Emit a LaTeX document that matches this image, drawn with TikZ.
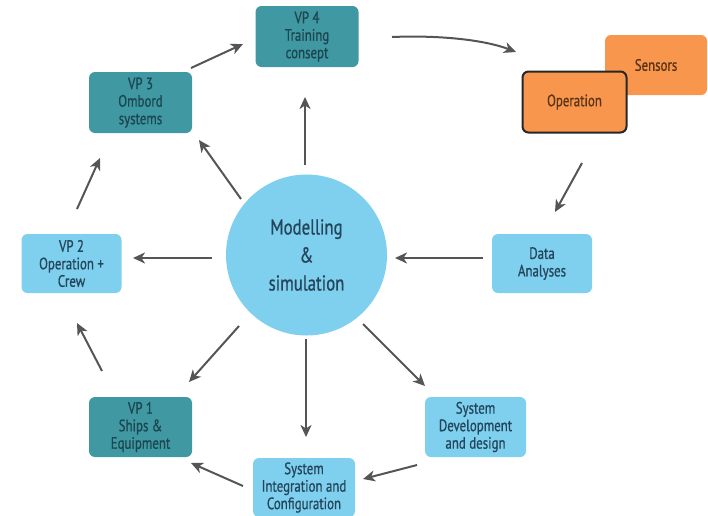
\documentclass[tikz,border=0pt]{standalone}
\usepackage{fontspec}
\setmainfont{PT Sans}[FakeStretch=0.78, FakeBold=0.8]
\usetikzlibrary{arrows.meta}
\definecolor{tealfill}{HTML}{3F98A2}
\definecolor{lightfill}{HTML}{7FD0EF}
\definecolor{orangefill}{HTML}{F7964C}
\definecolor{tealtext}{HTML}{1C4650}
\definecolor{lighttext}{HTML}{24465A}
\definecolor{orangetext}{HTML}{5B3418}
\definecolor{arrowgrey}{HTML}{555555}
\tikzset{
  basebox/.style={rectangle, rounded corners=6pt, inner sep=0pt, align=center,
    font=\fontsize{16.5}{17.5}\selectfont},
  tealbox/.style={basebox, fill=tealfill, text=tealtext},
  lightbox/.style={basebox, fill=lightfill, text=lighttext},
  orangebox/.style={basebox, fill=orangefill, text=orangetext},
  flow/.style={draw=arrowgrey, line width=2pt,
    -{Stealth[length=12pt, width=11pt, inset=3.5pt]}}
}
\begin{document}
\begin{tikzpicture}[x=1pt, y=-1pt]
\useasboundingbox (0,0) rectangle (708,515);
% centre circle
\node[circle, fill=lightfill, minimum size=161pt, inner sep=0pt, align=center,
  text=lighttext, font=\fontsize{21.5}{28}\selectfont] (ms) at (306.5,255) {Modelling\\\&\\simulation};
% boxes
\node[tealbox, minimum width=103pt, minimum height=61pt] (vp4) at (307,36.5) {VP 4\\Training\\consept};
\node[tealbox, minimum width=103pt, minimum height=61pt] (vp3) at (140.5,102.5) {VP 3\\Ombord\\systems};
\node[lightbox, minimum width=100pt, minimum height=59pt] (vp2) at (71.5,263.5) {VP 2\\Operation +\\Crew};
\node[tealbox, minimum width=103pt, minimum height=60pt] (vp1) at (140.5,427) {VP 1\\Ships \&\\Equipment};
\node[lightbox, minimum width=102pt, minimum height=59pt] (sysint) at (304,487.5) {System\\Integration and\\Configuration};
\node[lightbox, minimum width=101pt, minimum height=60pt] (sysdev) at (475.5,427) {System\\Development\\and design};
\node[lightbox, minimum width=100pt, minimum height=59pt] (data) at (542,263.5) {Data\\Analyses};
\node[orangebox, minimum width=102pt, minimum height=60pt] (sensors) at (656,65) {Sensors};
\node[orangebox, draw=black!85, line width=2pt, minimum width=104pt, minimum height=61pt] (operation) at (574.5,102) {Operation};
% connector end points
\coordinate (a1s) at (305,165);  \coordinate (a1e) at (305,97);
\coordinate (a2s) at (241,199);  \coordinate (a2e) at (199,140);
\coordinate (a3s) at (191,68);   \coordinate (a3e) at (243,44);
\coordinate (a4s) at (77,209);   \coordinate (a4e) at (100,158);
\coordinate (a5s) at (212,258);  \coordinate (a5e) at (133,258);
\coordinate (a6s) at (392,37);   \coordinate (a6e) at (516,52);
\coordinate (a7s) at (582,163);  \coordinate (a7e) at (555,212);
\coordinate (a8s) at (483,258);  \coordinate (a8e) at (395,258);
\coordinate (a9s) at (239,326);  \coordinate (a9e) at (189,382);
\coordinate (a10s) at (306,339); \coordinate (a10e) at (306,437);
\coordinate (a11s) at (363,324); \coordinate (a11e) at (425,386);
\coordinate (a12s) at (417,465); \coordinate (a12e) at (363,479);
\coordinate (a13s) at (243,486); \coordinate (a13e) at (191,463);
\coordinate (a14s) at (102,371); \coordinate (a14e) at (77,323);
% connectors
\draw[flow] (a1s) -- (a1e);
\draw[flow] (a2s) -- (a2e);
\draw[flow] (a3s) -- (a3e);
\draw[flow] (a4s) -- (a4e);
\draw[flow] (a5s) -- (a5e);
\draw[flow] (a6s) .. controls (440,35) and (485,40) .. (a6e);
\draw[flow] (a7s) -- (a7e);
\draw[flow] (a8s) -- (a8e);
\draw[flow] (a9s) -- (a9e);
\draw[flow] (a10s) -- (a10e);
\draw[flow] (a11s) -- (a11e);
\draw[flow] (a12s) -- (a12e);
\draw[flow] (a13s) -- (a13e);
\draw[flow] (a14s) -- (a14e);
\end{tikzpicture}
\end{document}
